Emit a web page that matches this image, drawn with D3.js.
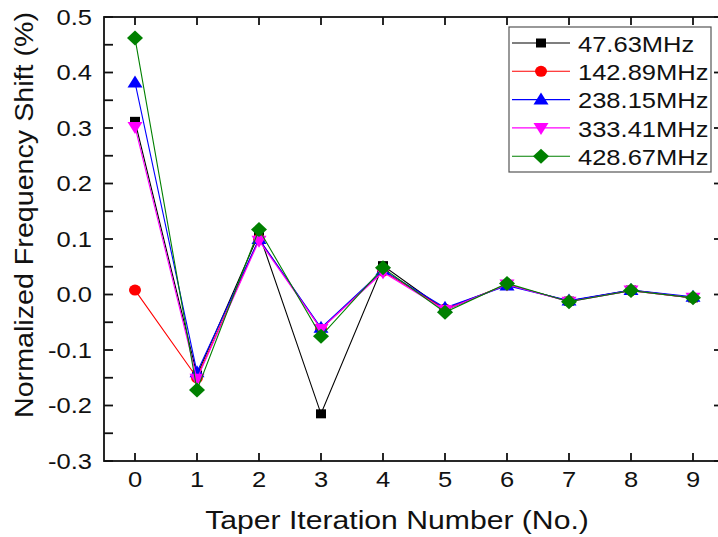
<!DOCTYPE html>
<html>
<head>
<meta charset="utf-8">
<script src="https://cdn.jsdelivr.net/npm/d3@7"></script>
<style>
  body { margin: 0; background: #fff; }
  svg { display: block; font-family: "Liberation Sans", Arial, sans-serif; }
</style>
</head>
<body>
<div id="chart"></div>
<script>
// data
var iterations = [0, 1, 2, 3, 4, 5, 6, 7, 8, 9];
var labels = ["47.63MHz", "142.89MHz", "238.15MHz", "333.41MHz", "428.67MHz"];
var colors = ["#000000", "#ff0000", "#0000ff", "#ff00ff", "#008000"];
var shapes = ["square", "circle", "triangle", "down", "diamond"];

var f47 = [0.312, -0.145, 0.110, -0.215, 0.052, -0.028, 0.018, -0.012, 0.008, -0.006];
var f142 = [0.008, -0.150, 0.100, -0.062, 0.042, -0.026, 0.018, -0.012, 0.007, -0.006];
var f238 = [0.382, -0.140, 0.100, -0.060, 0.044, -0.024, 0.016, -0.011, 0.008, -0.004];
var f333 = [0.302, -0.152, 0.097, -0.062, 0.040, -0.028, 0.018, -0.013, 0.007, -0.006];
var f428 = [0.462, -0.172, 0.117, -0.075, 0.048, -0.032, 0.020, -0.013, 0.007, -0.006];
var values = [f47, f142, f238, f333, f428];

var yTicks = [-0.3, -0.2, -0.1, 0.0, 0.1, 0.2, 0.3, 0.4, 0.5];

var W = 718, H = 537;
var stretch = 1.16; // the picture is a bit wider than tall
var pLeft = 104, pRight = 724, pTop = 17, pBottom = 461;

var svg = d3.select("#chart").append("svg")
  .attr("width", W).attr("height", H);

var x = d3.scaleLinear().domain([-0.5, 9.5]).range([pLeft, pRight]);
var y = d3.scaleLinear().domain([-0.3, 0.5]).range([pBottom, pTop]);

// plain hyphen for negatives, like the original
var fmt = d3.formatLocale({decimal: ".", thousands: ",", grouping: [3], currency: ["", ""], minus: "-"}).format(".1f");

function stext(g, tx, ty, str, size, anchor, base) {
  return g.append("text")
    .attr("transform", "translate(" + tx + "," + ty + ") scale(" + stretch + ",1)")
    .attr("font-size", size)
    .attr("text-anchor", anchor)
    .attr("dominant-baseline", base || "auto")
    .attr("fill", "#111")
    .text(str);
}

// marker outlines, centred on 0,0
function marker(type) {
  if (type == "square") return "M-5,-4.5H5V4.5H-5Z";
  if (type == "circle") return "M-6,0A6,5.5 0 1,0 6,0A6,5.5 0 1,0 -6,0Z";
  if (type == "triangle") return "M0,-7L7.5,5H-7.5Z";
  if (type == "down") return "M0,7L7.5,-5H-7.5Z";
  return "M0,-7.5L8,0L0,7.5L-8,0Z";
}

// frame and ticks
var axes = svg.append("g").attr("stroke", "#111");
axes.append("rect")
  .attr("x", pLeft).attr("y", pTop)
  .attr("width", pRight - pLeft).attr("height", pBottom - pTop)
  .attr("fill", "none").attr("stroke-width", 1.8);

iterations.forEach(function(d) {
  axes.append("line").attr("x1", x(d)).attr("x2", x(d))
    .attr("y1", pBottom).attr("y2", pBottom - 8).attr("stroke-width", 1.8);
  axes.append("line").attr("x1", x(d)).attr("x2", x(d))
    .attr("y1", pTop).attr("y2", pTop + 8).attr("stroke-width", 1.8);
});

d3.range(-0.3, 0.5001, 0.05).forEach(function(v) {
  axes.append("line").attr("x1", pLeft).attr("x2", pLeft + 9)
    .attr("y1", y(v)).attr("y2", y(v)).attr("stroke-width", 1.8);
});
yTicks.forEach(function(v) {
  axes.append("line").attr("x1", pRight).attr("x2", pRight - 10)
    .attr("y1", y(v)).attr("y2", y(v)).attr("stroke-width", 1.8);
});

// tick labels
yTicks.forEach(function(v) {
  stext(svg, 92, y(v), fmt(v), 22, "end", "central");
});
iterations.forEach(function(d) {
  stext(svg, x(d), 487, String(d), 22, "middle");
});

// axis titles
stext(svg, 397, 529, "Taper Iteration Number (No.)", 26, "middle");
svg.append("text")
  .attr("transform", "translate(33,215) rotate(-90)")
  .attr("font-size", 25)
  .attr("text-anchor", "middle")
  .attr("fill", "#111")
  .attr("textLength", 406)
  .attr("lengthAdjust", "spacingAndGlyphs")
  .text("Normalized Frequency Shift (%)");

// series
var line = d3.line()
  .x(function(d, i) { return x(iterations[i]); })
  .y(function(d) { return y(d); });

values.forEach(function(vals, k) {
  var g = svg.append("g");
  g.append("path")
    .attr("d", line(vals))
    .attr("fill", "none")
    .attr("stroke", colors[k])
    .attr("stroke-width", 1.1);
  g.selectAll("path.pt")
    .data(vals)
    .enter().append("path")
      .attr("class", "pt")
      .attr("d", marker(shapes[k]))
      .attr("transform", function(d, i) { return "translate(" + x(iterations[i]) + "," + y(d) + ")"; })
      .attr("fill", colors[k]);
});

// legend
var leg = svg.append("g");
leg.append("rect")
  .attr("x", 509).attr("y", 27).attr("width", 202).attr("height", 145)
  .attr("fill", "#fff").attr("stroke", "#555").attr("stroke-width", 1.2);

labels.forEach(function(lab, k) {
  var ly = 43 + k * 28.3;
  leg.append("line")
    .attr("x1", 512).attr("x2", 570).attr("y1", ly).attr("y2", ly)
    .attr("stroke", colors[k]).attr("stroke-width", 1.1);
  leg.append("path")
    .attr("d", marker(shapes[k]))
    .attr("transform", "translate(541," + ly + ")")
    .attr("fill", colors[k]);
  stext(leg, 578, ly + 1, lab, 22, "start", "central");
});
</script>
</body>
</html>
